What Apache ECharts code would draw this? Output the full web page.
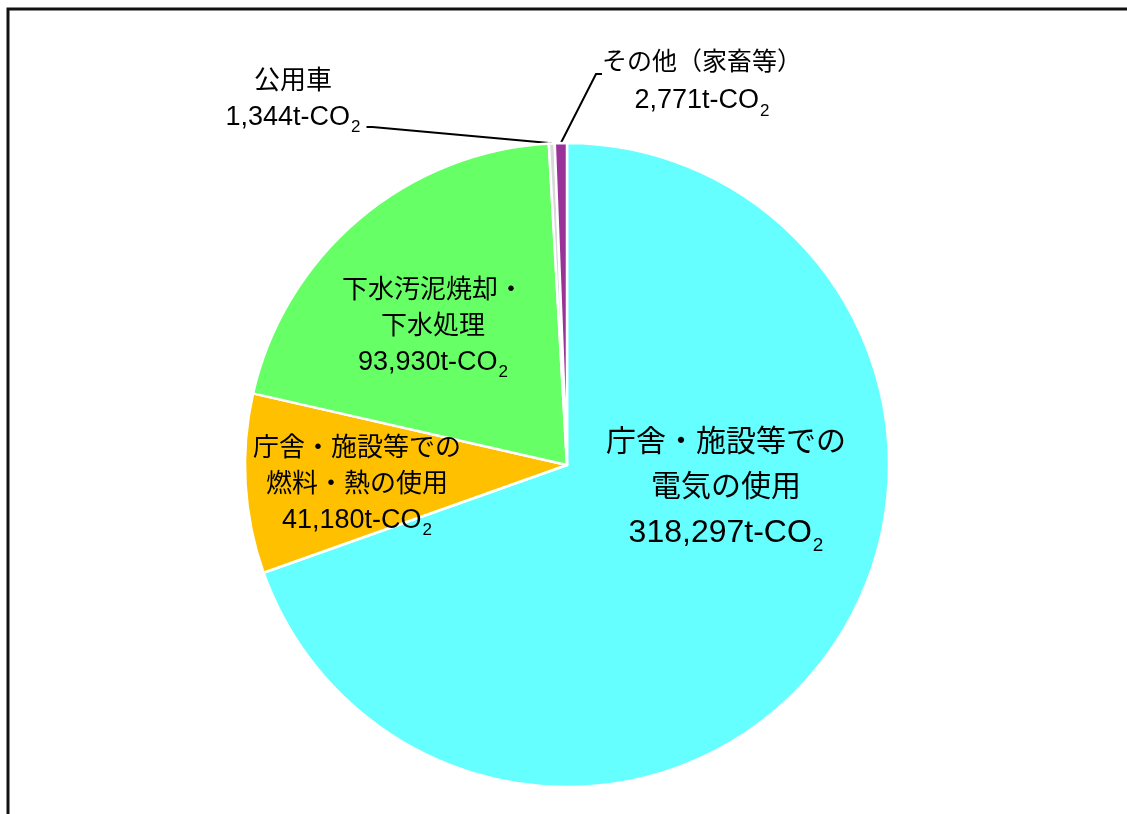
<!DOCTYPE html>
<html>
<head>
<meta charset="utf-8">
<script src="https://cdn.jsdelivr.net/npm/echarts@6/dist/echarts.min.js"></script>
<style>
html,body{margin:0;padding:0;background:#fff;}
#chart{width:1127px;height:814px;}
</style>
</head>
<body>
<div id="chart"></div>
<script>
// ---- data ----
const categories = ['庁舎・施設等での\n電気の使用', '庁舎・施設等での\n燃料・熱の使用', '下水汚泥焼却・\n下水処理', '公用車', 'その他（家畜等）'];
const values = [318297, 41180, 93930, 1344, 2771];
const colors = ['#66FFFF', '#FFC000', '#66FF66', '#D9D9D9', '#993399'];
const unitText = 't-CO';

// label anchor positions and text sizes (layout only)
const labelPos = [
  {x: 726, y: 488, fs: 30, nfs: 32, sfs: 19, lh: 45, pad: [0, 0, 0, 0]},
  {x: 357, y: 485, fs: 26, nfs: 27, sfs: 17, lh: 36, pad: [0, 0, 0, 0]},
  {x: 433, y: 327, fs: 26, nfs: 27, sfs: 17, lh: 36, pad: [0, 0, 0, 0]},
  {x: 296, y: 127, fs: 26, nfs: 27, sfs: 17, lh: 36, pad: [0, 6, 54, 0]},
  {x: 702, y: 74, fs: 25, nfs: 27, sfs: 17, lh: 38, pad: [16, 0, 0, 0]}
];

const fmt = v => v.toLocaleString('en-US');
const FONT = '"Liberation Sans", "Noto Sans CJK JP", sans-serif';

const data = categories.map((name, i) => {
  const lp = labelPos[i];
  const inside = i < 3;
  return {
    name: name,
    value: values[i],
    itemStyle: {color: colors[i]},
    label: {
      show: true,
      position: inside ? 'inside' : 'outside',
      fontSize: lp.fs,
      lineHeight: lp.lh,
      color: '#000',
      fontFamily: FONT,
      align: 'center',
      padding: lp.pad,
      formatter: p => p.name + '\n{num|' + fmt(p.value) + unitText + '}{sub|2}',
      rich: {
        num: {fontSize: lp.nfs, fontFamily: FONT, color: '#000', lineHeight: lp.lh},
        sub: {fontSize: lp.sfs, fontFamily: FONT, color: '#000', verticalAlign: 'bottom', lineHeight: lp.sfs, padding: [Math.round(lp.sfs*0.7),0,0,1]}
      }
    },
    labelLine: {
      show: !inside,
      length: 2,
      length2: 6,
      lineStyle: {color: '#000', width: 2}
    }
  };
});

const chart = echarts.init(document.getElementById('chart'), null, {renderer: 'canvas'});
chart.setOption({
  animation: false,
  backgroundColor: '#fff',
  graphic: [{
    type: 'rect',
    shape: {x: 8, y: 9, width: 1300, height: 1000},
    style: {fill: 'none', stroke: '#111', lineWidth: 3},
    silent: true,
    z: 100
  }],
  series: [{
    type: 'pie',
    center: [567, 465],
    radius: [0, 322],
    startAngle: 90,
    clockwise: true,
    avoidLabelOverlap: false,
    itemStyle: {borderColor: '#fff', borderWidth: 2.5},
    labelLayout: function (params) {
      const lp = labelPos[params.dataIndex];
      return {x: lp.x, y: lp.y, align: 'center', verticalAlign: 'middle'};
    },
    data: data
  }]
});
</script>
</body>
</html>
